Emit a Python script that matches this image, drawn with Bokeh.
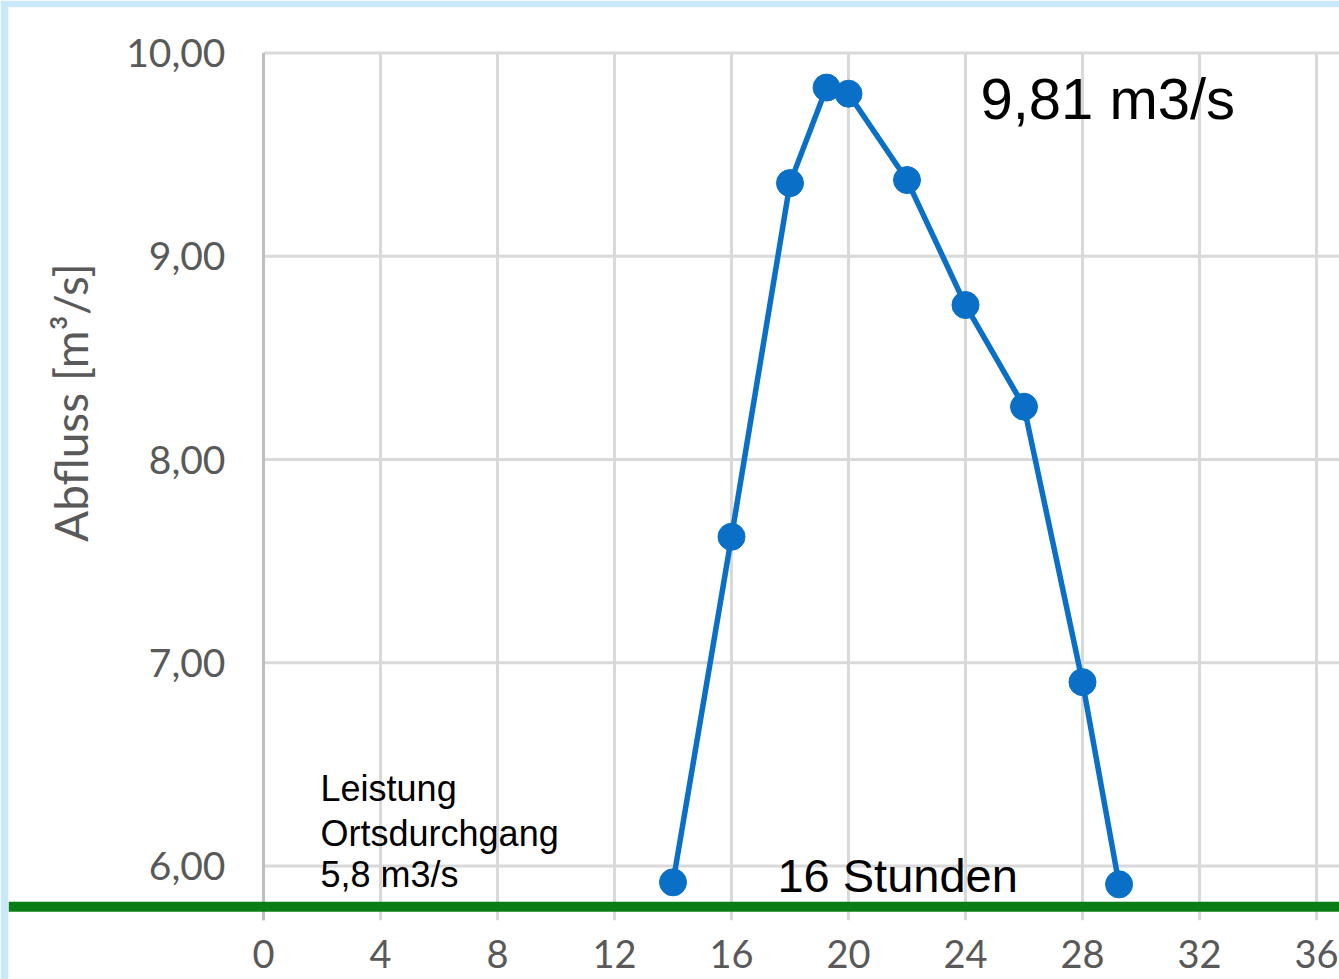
import math
from bokeh.plotting import figure
from bokeh.models import FixedTicker, LinearAxis, Span, Label, Range1d
from bokeh.embed import file_html
from bokeh.resources import INLINE

# ---- data ----
hours = [14, 16, 18, 19.25, 20, 22, 24, 26, 28, 29.25]
flow = [5.92, 7.62, 9.36, 9.83, 9.80, 9.375, 8.76, 8.26, 6.905, 5.91]

x_ticks = [0, 4, 8, 12, 16, 20, 24, 28, 32, 36]
y_ticks = [6, 7, 8, 9, 10]
y_tick_labels = ["6,00", "7,00", "8,00", "9,00", "10,00"]

capacity = 5.8
peak_text = "9,81 m3/s"
duration_text = "16 Stunden"
capacity_lines = ["Leistung", "Ortsdurchgang", "5,8 m3/s"]
y_title = "Abfluss [m\u00b3/s]"

# ---- styling / layout ----
BLUE = "#0A6FC6"
GREEN = "#0A7D16"
GRID = "#D9D9D9"
AXIS = "#BFBFBF"
TICK = "#595959"
FRAME_BG = "#C9E9FB"

W, H = 1339, 979
GRID_BOTTOM = 5.734   # lower end of the grid area

p = figure(width=W, height=H, output_backend="svg", toolbar_location=None,
           x_range=Range1d(-8.718, 36.786), y_range=Range1d(5.442, 10.224),
           x_axis_location=None, y_axis_location=None,
           min_border_left=8, min_border_right=0,
           min_border_top=7, min_border_bottom=0)
p.outline_line_color = None
p.background_fill_color = "white"
p.border_fill_color = FRAME_BG
p.xgrid.grid_line_color = None
p.ygrid.grid_line_color = None

# grid lines restricted to the plot area
p.segment(x0=x_ticks, x1=x_ticks, y0=[GRID_BOTTOM] * len(x_ticks), y1=[y_ticks[-1]] * len(x_ticks),
          line_color=GRID, line_width=3)
p.segment(x0=[x_ticks[0]] * len(y_ticks), x1=[40] * len(y_ticks), y0=y_ticks, y1=y_ticks,
          line_color=GRID, line_width=3)
p.segment(x0=[x_ticks[0]], x1=[x_ticks[0]], y0=[GRID_BOTTOM], y1=[y_ticks[-1]],
          line_color=AXIS, line_width=3)

# x axis drawn at the bottom of the grid
xax = LinearAxis(fixed_location=GRID_BOTTOM, ticker=FixedTicker(ticks=x_ticks))
xax.axis_line_color = None
xax.major_tick_line_color = None
xax.minor_tick_line_color = None
xax.major_label_text_font = "Lato"
xax.major_label_text_font_size = "38px"
xax.major_label_text_color = TICK
xax.major_label_standoff = 14
p.add_layout(xax, "below")

# y axis drawn at x = 0
yax = LinearAxis(fixed_location=0, ticker=FixedTicker(ticks=y_ticks))
yax.major_label_overrides = {t: s for t, s in zip(y_ticks, y_tick_labels)}
yax.axis_line_color = None
yax.major_tick_line_color = None
yax.minor_tick_line_color = None
yax.major_label_text_font = "Lato"
yax.major_label_text_font_size = "39px"
yax.major_label_text_color = TICK
yax.major_label_standoff = 32
p.add_layout(yax, "left")

p.add_layout(Label(x=-6.6, y=8.28, text=y_title, angle=math.pi / 2,
                   text_font="Lato", text_font_size="46px", text_color=TICK,
                   text_align="center", text_baseline="middle"))

# capacity line
p.add_layout(Span(location=capacity, dimension="width", line_color=GREEN, line_width=10))

# hydrograph
p.line(hours, flow, line_color=BLUE, line_width=5.5)
p.scatter(hours, flow, size=27, fill_color=BLUE, line_color=BLUE)

# annotations
p.add_layout(Label(x=24.51, y=9.775, text=peak_text, text_font="Liberation Sans",
                   text_font_size="58px", text_color="black", text_baseline="alphabetic"))
p.add_layout(Label(x=17.57, y=5.953, text=duration_text, text_font="Liberation Sans",
                   text_font_size="47px", text_color="black", text_baseline="alphabetic"))
for line, yy in zip(capacity_lines, [6.380, 6.158, 5.957]):
    p.add_layout(Label(x=1.95, y=yy, text=line, text_font="Liberation Sans",
                       text_font_size="36px", text_color="black", text_baseline="alphabetic"))

open("out.html", "w").write(file_html(p, INLINE))
